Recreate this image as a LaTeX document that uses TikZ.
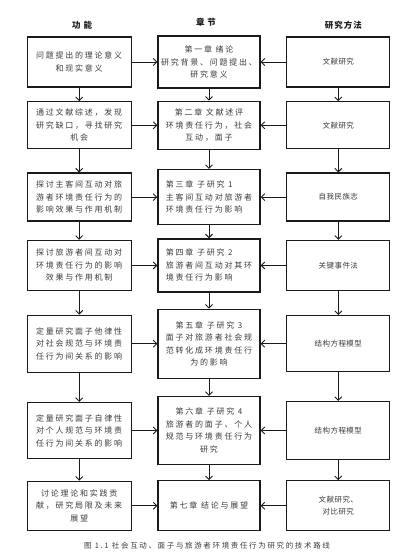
\documentclass[tikz,border=0pt]{standalone}
\usepackage{fontspec}
\usepackage{xcolor}
\usetikzlibrary{arrows.meta, positioning}
\newfontfamily\cjk[LetterSpace=22]{Noto Sans CJK SC}
\newfontfamily\cjkmeth[LetterSpace=6]{Noto Sans CJK SC}
\newfontfamily\cjkhead[LetterSpace=12]{Noto Sans CJK SC}
\definecolor{tink}{HTML}{1A1A1A}
\definecolor{ttext}{HTML}{3C3C3C}
\tikzset{
  box/.style={rectangle, draw=tink, line width=1.3pt, fill=white, text=ttext,
              align=center, inner sep=2pt, font=\cjk\fontsize{8}{12.5}\selectfont},
  fun/.style={box, minimum width=104pt},
  chap/.style={box, minimum width=102pt},
  meth/.style={box, minimum width=103pt, font=\cjkmeth\fontsize{7.5}{12.5}\selectfont},
  head/.style={inner sep=0pt, text=tink, font=\cjkhead\bfseries\fontsize{8.5}{10}\selectfont},
  flow/.style={-{Straight Barb[length=3.5pt, width=7pt, line width=0.9pt]}, draw=tink, line width=0.9pt}
}

\begin{document}
\begin{tikzpicture}[x=1pt, y=1pt, node distance=15pt and 25.5pt]
  \path[use as bounding box] (0,0) rectangle (404,-554);

  % chapters
  \node[chap, minimum height=52pt] (chap1) at (209,-62) {第一章 绪论\\研究背景、问题提出、\\研究意义};
  \node[chap, minimum height=48pt, below=12pt of chap1] (chap2) {第二章 文献述评\\环境责任行为，社会\\互动，面子};
  \node[chap, minimum height=55pt, below=19pt of chap2, align=left] (chap3) {第三章 子研究 1\\主客间互动对旅游者\\环境责任行为影响};
  \node[chap, minimum height=53pt, below=13pt of chap3, align=left] (chap4) {第四章 子研究 2\\旅游者间互动对其环\\境责任行为影响};
  \node[chap, minimum height=69pt, below=16pt of chap4] (chap5) {第五章 子研究 3\\面子对旅游者社会规\\范转化成环境责任行\\为的影响};
  \node[chap, minimum height=68pt, below=17pt of chap5] (chap6) {第六章 子研究 4\\旅游者的面子、个人\\规范与环境责任行为\\研究};
  \node[chap, minimum height=50pt, below=of chap6] (chap7) {第七章 结论与展望};

  % functions
  \node[fun, minimum height=50pt, left=of chap1] (fun1) {问题提出的理论意义\\和现实意义};
  \node[fun, minimum height=47pt, left=of chap2] (fun2) {通过文献综述，发现\\研究缺口，寻找研究\\机会};
  \node[fun, minimum height=48pt, left=of chap3] (fun3) {探讨主客间互动对旅\\游者环境责任行为的\\影响效果与作用机制};
  \node[fun, minimum height=50pt, left=of chap4] (fun4) {探讨旅游者间互动对\\环境责任行为的影响\\效果与作用机制};
  \node[fun, minimum height=57pt, left=of chap5] (fun5) {定量研究面子他律性\\对社会规范与环境责\\任行为间关系的影响};
  \node[fun, minimum height=56pt, left=of chap6] (fun6) {定量研究面子自律性\\对个人规范与环境责\\任行为间关系的影响};
  \node[fun, minimum height=49pt, left=of chap7] (fun7) {讨论理论和实践贡\\献，研究局限及未来\\展望};

  % methods
  \node[meth, minimum height=50pt, right=of chap1] (meth1) {文献研究};
  \node[meth, minimum height=47pt, right=of chap2] (meth2) {文献研究};
  \node[meth, minimum height=48pt, right=of chap3] (meth3) {自我民族志};
  \node[meth, minimum height=50pt, right=of chap4] (meth4) {关键事件法};
  \node[meth, minimum height=56pt, right=of chap5] (meth5) {结构方程模型};
  \node[meth, minimum height=58pt, right=of chap6] (meth6) {结构方程模型};
  \node[meth, minimum height=50pt, right=of chap7] (meth7) {文献研究、\\对比研究};

  % column heads and caption
  \node[head, above=7pt of fun1, xshift=3pt] (hfun) {功 能};
  \node[head, above=9pt of chap1, xshift=-3pt] (hchap) {章 节};
  \node[head, above=7pt of meth1, xshift=5pt] (hmeth) {研究方法};
  \node[below=10pt of chap7, xshift=-2pt, text=ttext, inner sep=0pt,
        font=\cjk\fontsize{7.5}{9}\selectfont] (cap) {图 1.1 社会互动、面子与旅游者环境责任行为研究的技术路线};

  \draw[flow] (fun1) -- (chap1);
  \draw[flow] (fun2) -- (chap2);
  \draw[flow] (fun3) -- (chap3);
  \draw[flow] (fun4) -- (chap4);
  \draw[flow] (fun5) -- (chap5);
  \draw[flow] (fun6) -- (chap6);
  \draw[flow] (fun7) -- (chap7);
  \draw[flow] (meth1) -- (chap1);
  \draw[flow] (meth2) -- (chap2);
  \draw[flow] (meth3) -- (chap3);
  \draw[flow] (meth4) -- (chap4);
  \draw[flow] (meth5) -- (chap5);
  \draw[flow] (meth6) -- (chap6);
  \draw[flow] (meth7) -- (chap7);

  \draw[flow] (fun1) -- (fun2);
  \draw[flow] (fun2) -- (fun3);
  \draw[flow] (fun3) -- (fun4);
  \draw[flow] (fun4) -- (fun5);
  \draw[flow] (fun5) -- (fun6);
  \draw[flow] (fun6) -- (fun7);
  \draw[flow] (chap1) -- (chap2);
  \draw[flow] (chap2) -- (chap3);
  \draw[flow] (chap3) -- (chap4);
  \draw[flow] (chap4) -- (chap5);
  \draw[flow] (chap5) -- (chap6);
  \draw[flow] (chap6) -- (chap7);
  \draw[flow] (meth1) -- (meth2);
  \draw[flow] (meth2) -- (meth3);
  \draw[flow] (meth3) -- (meth4);
  \draw[flow] (meth4) -- (meth5);
  \draw[flow] (meth5) -- (meth6);
  \draw[flow] (meth6) -- (meth7);
\end{tikzpicture}
\end{document}
